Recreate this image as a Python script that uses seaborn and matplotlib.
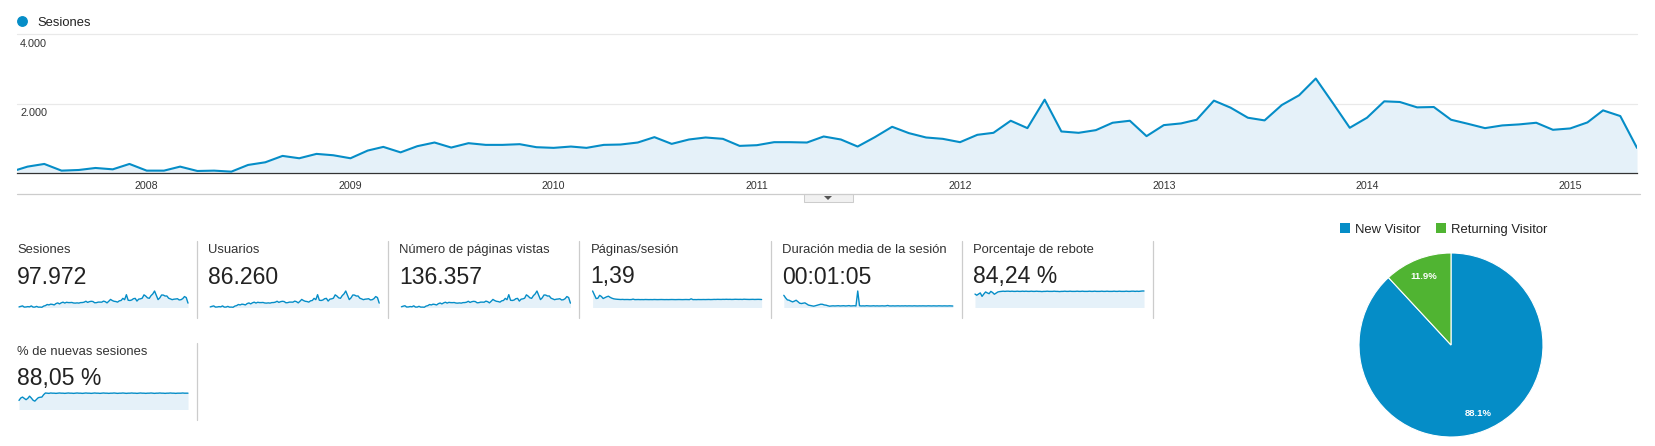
import numpy as np
import pandas as pd
import matplotlib
matplotlib.use("Agg")
import matplotlib.pyplot as plt
from matplotlib.patches import Rectangle, Polygon
from matplotlib.lines import Line2D
import seaborn as sns

sns.set_theme(style="white")
plt.rcParams["font.family"] = ["Liberation Sans", "DejaVu Sans"]

# ---------------- data ----------------
start_date = "2007-05-13"
month_starts = pd.date_range("2007-06-01", "2015-05-01", freq="MS")
dates = pd.to_datetime([start_date]).append(month_starts)

sesiones = [
    90, 184, 261, 68, 87, 145, 106, 261,
    68, 68, 184, 58, 68, 39, 232, 309, 493, 425, 551, 512,
    425, 647, 753, 595, 773, 879, 734, 860, 811, 811, 831, 744,
    725, 763, 725, 811, 821, 879, 1034, 840, 966, 1024, 985, 782,
    802, 889, 889, 879, 1053, 966, 763, 1034, 1333, 1150, 1024, 985,
    889, 1101, 1159, 1507, 1294, 2115, 1198, 1159, 1236, 1449, 1507, 1063,
    1381, 1430, 1536, 2087, 1884, 1594, 1517, 1961, 2241, 2724, 2009, 1304,
    1594, 2067, 2048, 1893, 1903, 1536, 1420, 1294, 1372, 1401, 1449, 1246,
    1285, 1459, 1806, 1642, 724,
]
usuarios = [
    80, 165, 230, 60, 77, 128, 93, 230,
    60, 60, 162, 51, 60, 34, 204, 272, 434, 374, 485, 450,
    374, 569, 663, 524, 680, 774, 646, 757, 714, 714, 731, 655,
    638, 671, 638, 714, 722, 774, 910, 739, 850, 901, 867, 688,
    706, 782, 782, 774, 927, 850, 671, 910, 1173, 1012, 901, 867,
    782, 969, 1020, 1326, 1139, 1861, 1054, 1020, 1088, 1275, 1326, 935,
    1215, 1258, 1352, 1837, 1658, 1403, 1335, 1726, 1972, 2397, 1768, 1148,
    1403, 1819, 1802, 1666, 1675, 1352, 1250, 1139, 1207, 1233, 1275, 1096,
    1131, 1284, 1589, 1445, 637,
]
paginas_vistas = [
    160, 300, 400, 110, 130, 220, 160, 380,
    100, 100, 270, 85, 95, 60, 320, 420, 680, 590, 760, 700,
    580, 880, 1030, 820, 1060, 1210, 1010, 1180, 1120, 1110, 1140, 1020,
    1000, 1050, 1000, 1120, 1130, 1210, 1430, 1160, 1330, 1410, 1360, 1080,
    1110, 1230, 1230, 1210, 1460, 1340, 1060, 1430, 1850, 1590, 1420, 1360,
    1230, 1530, 1610, 2090, 1790, 2940, 1660, 1610, 1710, 2010, 2090, 1470,
    1910, 1980, 2130, 2900, 2610, 2210, 2100, 2720, 3110, 3780, 2790, 1810,
    2210, 2870, 2840, 2630, 2640, 2130, 1970, 1790, 1900, 1940, 2010, 1730,
    1780, 2020, 2510, 2280, 1000,
]
paginas_sesion = [
    2.85, 2.20, 1.55, 1.60, 2.10, 1.90, 1.55, 1.70,
    1.85, 1.95, 1.75, 1.60, 1.50, 1.45, 1.42, 1.40, 1.38, 1.40, 1.37, 1.38,
    1.38, 1.36, 1.37, 1.45, 1.36, 1.37, 1.38, 1.36, 1.37, 1.36, 1.38, 1.37,
    1.36, 1.37, 1.36, 1.38, 1.37, 1.36, 1.37, 1.38, 1.37, 1.36, 1.37, 1.36,
    1.37, 1.38, 1.37, 1.36, 1.37, 1.38, 1.37, 1.36, 1.37, 1.38, 1.37, 1.36,
    1.50, 1.36, 1.37, 1.36, 1.38, 1.37, 1.37, 1.38, 1.37, 1.38, 1.39, 1.37,
    1.38, 1.40, 1.39, 1.41, 1.40, 1.39, 1.41, 1.40, 1.42, 1.40, 1.41, 1.39,
    1.40, 1.42, 1.41, 1.40, 1.41, 1.39, 1.43, 1.41, 1.40, 1.39, 1.40, 1.41,
    1.39, 1.40, 1.41, 1.40, 1.38,
]
duracion_seg = [
    480, 380, 300, 286, 250, 221, 250, 286,
    230, 170, 156, 170, 182, 140, 95, 80, 65, 52, 70, 90, 110, 130,
    125, 100, 91, 70, 52, 60, 66, 60, 65, 70,
    60, 65, 70, 60, 65, 75, 60, 65, 70, 60, 650, 70,
    60, 65, 60, 70, 65, 60, 62, 68, 60, 65, 60, 62,
    66, 60, 64, 80, 62, 60, 65, 60, 63, 66, 60, 64,
    62, 66, 60, 65, 63, 60, 66, 62, 60, 64, 61, 65,
    62, 60, 66, 63, 60, 65, 62, 60, 66, 63, 60, 64,
    62, 60, 65, 62, 58,
]
rebote_pct = [
    70, 64, 70, 76, 58, 70, 81, 76,
    72, 84, 78, 69, 75, 81, 83, 84, 85, 84, 85, 85,
    84, 85, 84, 84, 85, 84, 84, 85, 84, 85, 84, 84,
    85, 84, 84, 85, 84, 84, 83, 84, 84, 85, 84, 84,
    84, 85, 84, 84, 83, 84, 84, 85, 84, 84, 85, 84,
    84, 84, 85, 84, 84, 85, 84, 84, 84, 85, 84, 84,
    85, 84, 84, 84, 85, 84, 84, 85, 84, 84, 84, 85,
    84, 84, 85, 84, 84, 84, 85, 84, 84, 85, 85, 84,
    85, 84, 85, 86, 86,
]
nuevas_pct = [
    49, 62, 67, 60, 53, 60, 72, 62,
    50, 45, 55, 64, 66, 67, 80, 89, 88, 87, 89, 88,
    88, 87, 88, 89, 88, 88, 87, 88, 89, 88, 88, 87,
    88, 89, 88, 88, 87, 88, 89, 88, 88, 87, 88, 89,
    88, 88, 87, 88, 89, 88, 88, 87, 88, 88, 89, 88,
    87, 88, 88, 89, 88, 87, 88, 88, 89, 88, 88, 87,
    88, 89, 88, 88, 87, 88, 88, 89, 88, 87, 88, 88,
    89, 88, 88, 87, 88, 88, 89, 88, 88, 87, 88, 88,
    88, 89, 88, 88, 88,
]

year_labels = ["2008", "2009", "2010", "2011", "2012", "2013", "2014", "2015"]
ytick_values = [2000, 4000]
ytick_labels = ["2.000", "4.000"]

kpi_titles = ["Sesiones", "Usuarios", "Número de páginas vistas", "Páginas/sesión",
              "Duración media de la sesión", "Porcentaje de rebote", "% de nuevas sesiones"]
kpi_values = ["97.972", "86.260", "136.357", "1,39", "00:01:05", "84,24 %", "88,05 %"]
kpi_series = [sesiones, usuarios, paginas_vistas, paginas_sesion,
              duracion_seg, rebote_pct, nuevas_pct]

pie_labels = ["New Visitor", "Returning Visitor"]
pie_shares = [88.1, 11.9]

# ---------------- style ----------------
BLUE = "#058DC7"
GREEN = "#50B432"
FILL = "#E5F1F9"
TXT = "#222222"

W, H = 1655, 446
fig = plt.figure(figsize=(W / 100, H / 100), dpi=100, facecolor="white")


def px_axes(x0, y0, x1, y1):
    return fig.add_axes([x0 / W, 1 - y1 / H, (x1 - x0) / W, (y1 - y0) / H])


def fig_line(x0, y0, x1, y1, color, lw=0.75):
    fig.add_artist(Line2D([x0 / W, x1 / W], [1 - y0 / H, 1 - y1 / H],
                          color=color, lw=lw, transform=fig.transFigure))


# ---------------- main chart ----------------
ax = px_axes(17, 34.3, 1637, 173)
df = pd.DataFrame({"Mes": dates, "Sesiones": sesiones})
ax.fill_between(df["Mes"], df["Sesiones"], 0, color=FILL, lw=0, zorder=1)
sns.lineplot(data=df, x="Mes", y="Sesiones", ax=ax, color=BLUE, linewidth=1.5, zorder=3)
ax.set_xlim(dates[0], dates[-1])
ax.set_ylim(0, 4000)
for v, lab in zip(ytick_values, ytick_labels):
    ax.axhline(v, color="#e9e9e9", lw=0.9, zorder=0, clip_on=False)
    ax.annotate(lab, xy=(0, v), xycoords=("axes fraction", "data"),
                xytext=(2.2, -8.9), textcoords="offset points",
                fontsize=7.8, color="#333333", va="baseline", ha="left")
ax.set_yticks([])
ax.set_xticks(pd.to_datetime([f"{y}-01-01" for y in year_labels]))
ax.set_xticklabels(year_labels, fontsize=7.7, color="#333333")
ax.tick_params(axis="x", length=0, pad=5.5)
ax.set_xlabel("")
ax.set_ylabel("")
for s in ["top", "left", "right"]:
    ax.spines[s].set_visible(False)
ax.spines["bottom"].set_color("#333333")
ax.spines["bottom"].set_linewidth(0.9)

# legend of main chart
fig.add_artist(Line2D([22 / W], [1 - 21 / H], marker="o", markersize=6.8, color=BLUE,
                      lw=0, transform=fig.transFigure))
fig.text(37 / W, 1 - 26 / H, "Sesiones", fontsize=9.4, color=TXT, va="baseline")

# bottom grey line + toggle button
fig_line(17, 194, 1640, 194, "#cccccc", 0.9)
fig.add_artist(Rectangle((804 / W, 1 - 202 / H), 49 / W, 8 / H, transform=fig.transFigure,
                         facecolor="#f1f1f1", edgecolor="#cccccc", lw=0.75))
fig.add_artist(Polygon([[824 / W, 1 - 196 / H], [832 / W, 1 - 196 / H], [828 / W, 1 - 200 / H]],
                       closed=True, transform=fig.transFigure, facecolor="#555555", lw=0))

# ---------------- KPI panels ----------------
panel_pos = [(17 + 191.2 * i, 0) for i in range(6)] + [(17, 1)]
for (x0, row), title, value, series in zip(panel_pos, kpi_titles, kpi_values, kpi_series):
    off = 102 * row
    fig.text(x0 / W, 1 - (253 + off) / H, title, fontsize=9.4, color="#333333", va="baseline")
    fig.text(x0 / W, 1 - (283.5 + off) / H, value, fontsize=16.6, color=TXT, va="baseline")
    sx = px_axes(x0 + 2, 291 + off, x0 + 171, 307.5 + off)
    idx = np.arange(len(series))
    sx.fill_between(idx, series, 0, color=FILL, lw=0)
    sns.lineplot(x=idx, y=series, ax=sx, color=BLUE, linewidth=1.0)
    for ln in sx.lines:
        ln.set_clip_on(False)
    sx.set_xlim(0, len(series) - 1)
    sx.set_ylim(0, max(series))
    sx.axis("off")
    fig_line(x0 + 180, 241 + off, x0 + 180, 318 + off, "#cccccc", 0.9)

# ---------------- pie ----------------
cx, cy, r = 1451, 345, 92
pax = px_axes(cx - r, cy - r, cx + r, cy + r)
wedges, texts, autotexts = pax.pie(
    pie_shares, colors=[BLUE, GREEN], startangle=90, counterclock=False,
    autopct="%.1f%%", pctdistance=0.8,
    wedgeprops=dict(edgecolor="white", linewidth=0.8),
    textprops=dict(color="white", fontsize=6.8, fontweight="bold"))
pax.set_xlim(-1, 1)
pax.set_ylim(-1, 1)
pax.set_aspect("equal")
pax.axis("off")

leg_x = [1340, 1436]
for lx, lab, col in zip(leg_x, pie_labels, [BLUE, GREEN]):
    fig.add_artist(Rectangle((lx / W, 1 - 233.3 / H), 10 / W, 10 / H,
                             transform=fig.transFigure, facecolor=col, lw=0))
    fig.text((lx + 15) / W, 1 - 233.3 / H, lab, fontsize=9.4, color=TXT, va="baseline")

fig.savefig("out.png", dpi=100, facecolor="white")
